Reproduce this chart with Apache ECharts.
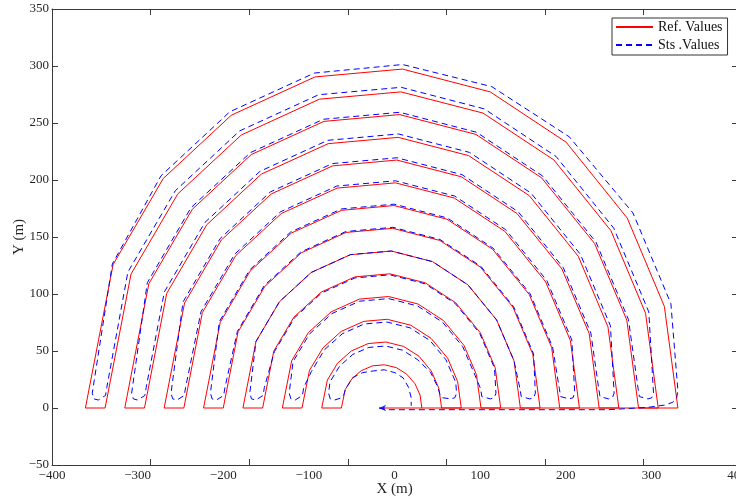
<!DOCTYPE html>
<html>
<head>
<meta charset="utf-8">
<title>Reference vs. tracked path</title>
<script src="https://cdn.jsdelivr.net/npm/echarts@6/dist/echarts.min.js"></script>
<style>
  html, body { margin: 0; padding: 0; background: #ffffff; }
  #chart { width: 736px; height: 499px; }
</style>
</head>
<body>
<div id="chart"></div>
<script>
// Reference rings, outermost first, each listed from its right foot to its left foot (x, y in metres)
const refArcs = [
  [[331,0],[315.2,89.1],[271.8,166.6],[200.4,233.2],[111.8,277.3],[9.2,297.3],[-92.9,290.4],[-190.6,256.8],[-270.1,201.3],[-328.6,125.9],[-361,0]],
  [[308,0],[293.2,83.1],[252.8,155.5],[186.1,217.6],[103.4,258.7],[7.5,277.3],[-87.7,270.9],[-178.9,239.5],[-253.1,187.8],[-307.7,117.5],[-338,0]],
  [[285,0],[271.3,77.1],[233.7,144.3],[171.8,201.9],[95,240],[5.9,257.4],[-82.5,251.4],[-167.3,222.3],[-236.2,174.3],[-286.9,109],[-315,0]],
  [[262,0],[249.3,71.2],[214.6,133.1],[157.4,186.3],[86.5,221.4],[4.3,237.4],[-77.3,231.9],[-155.6,205.1],[-219.2,160.8],[-266,100.6],[-292,0]],
  [[239,0],[227.4,65.2],[195.6,121.9],[143.1,170.6],[78.1,202.8],[2.7,217.5],[-72.2,212.4],[-143.9,187.8],[-202.3,147.3],[-245.2,92.1],[-269,0]],
  [[216,0],[205.4,59.2],[176.5,110.7],[128.8,155],[69.7,184.2],[1.1,197.5],[-67,192.9],[-132.2,170.6],[-185.3,133.8],[-224.4,83.7],[-246,0]],
  [[193,0],[183.5,53.2],[157.4,99.5],[114.5,139.3],[61.2,165.6],[-0.5,177.6],[-61.8,173.4],[-120.6,153.4],[-168.4,120.3],[-203.5,75.2],[-223,0]],
  [[170,0],[161.5,47.2],[138.4,88.4],[100.2,123.7],[52.8,147],[-2.1,157.6],[-56.6,154],[-108.9,136.1],[-151.4,106.7],[-182.7,66.8],[-200,0]],
  [[147,0],[139.6,41.3],[119.3,77.2],[85.8,108],[44.4,128.4],[-3.7,137.7],[-51.5,134.5],[-97.2,118.9],[-134.4,93.2],[-161.8,58.3],[-177,0]],
  [[124,0],[117.6,35.3],[100.2,66],[71.5,92.3],[35.9,109.8],[-5.3,117.7],[-46.3,115],[-85.5,101.7],[-117.5,79.7],[-141,49.9],[-154,0]],
  [[101,0],[95.7,29.3],[81.2,54.8],[57.2,76.7],[27.5,91.2],[-6.9,97.8],[-41.1,95.5],[-73.9,84.4],[-100.5,66.2],[-120.1,41.4],[-131,0]],
  [[78,0],[73.7,23.3],[62.1,43.6],[42.9,61],[19.1,72.6],[-8.5,77.8],[-35.9,76],[-62.2,67.2],[-83.6,52.7],[-99.3,33],[-108,0]],
  [[55,0],[51.8,17.3],[43,32.4],[28.6,45.4],[10.7,54],[-10.1,57.9],[-30.8,56.5],[-50.5,50],[-66.6,39.2],[-78.4,24.5],[-85,0]],
  [[32,0],[29.8,11.4],[24,21.2],[14.3,29.7],[2.2,35.4],[-11.7,37.9],[-25.6,37],[-38.9,32.7],[-49.7,25.7],[-57.6,16.1],[-62,0]]
];
const refStart = [[-18, 0]];

// Tracked path: the arc part of each ring (right to left), the U-turns between rings, and the two ends
const stsArcs = [
  [[322.8,91.5],[278.5,171.1],[204.1,237.9],[113.6,281.9],[9.4,301.3],[-93.6,293.8],[-192.4,259.8],[-272.7,203.7],[-329.5,126.4]],
  [[297,84.3],[256.1,157.7],[188.6,220.7],[104.8,262.4],[7.8,281.3],[-88.6,274.8],[-181,243],[-256.1,190.5],[-311.4,119.2]],
  [[273.2,77.7],[235.4,145.4],[173,203.5],[95.7,241.9],[6.1,259.4],[-83,253.3],[-168.3,224],[-237.7,175.7],[-288.7,109.9]],
  [[252.2,72.1],[217.1,134.8],[159.3,188.6],[87.6,224.2],[4.5,240.4],[-78,234.8],[-157.1,207.6],[-221.4,162.8],[-268.8,101.8]],
  [[229.3,65.8],[197.2,123],[144.4,172.2],[78.8,204.7],[2.9,219.5],[-72.6,214.4],[-144.9,189.6],[-203.7,148.6],[-247,93]],
  [[207.1,59.7],[178,111.7],[129.9,156.4],[70.3,185.9],[1.2,199.3],[-67.4,194.7],[-133.1,172.1],[-186.6,135],[-226,84.4]],
  [[184.6,53.6],[158.4,100.2],[115.2,140.2],[61.7,166.7],[-0.4,178.8],[-62.1,174.6],[-121.2,154.4],[-169.2,121.1],[-204.6,75.7]],
  [[162.4,47.5],[139.1,88.9],[100.7,124.4],[53.1,147.8],[-2,158.5],[-56.8,154.8],[-109.3,136.9],[-152.1,107.4],[-183.5,67.2]],
  [[139.6,41.3],[119.3,77.2],[85.8,108],[44.4,128.4],[-3.7,137.7],[-51.5,134.5],[-97.2,118.9],[-134.4,93.2],[-161.8,58.3]],
  [[116.8,35],[99.5,65.5],[71,91.6],[35.6,109],[-5.4,116.8],[-46.1,114.1],[-85.1,100.9],[-116.8,79.1],[-140.2,49.5]],
  [[94,28.8],[79.7,53.8],[56.1,75.3],[26.9,89.5],[-7,96],[-40.7,93.7],[-73,82.9],[-99.2,65],[-118.5,40.7]],
  [[71.5,22.6],[60.1,42.3],[41.4,59.2],[18.2,70.3],[-8.7,75.4],[-35.4,73.7],[-61,65.1],[-81.8,51.1],[-97.1,31.9]],
  [[50.5,18.5],[42,31.5],[26.4,42.7],[9.4,50.7],[-10.4,54.4],[-30,53.1],[-48.7,47],[-64,36.8],[-75.3,23]],
  [[19.5,9],[16.5,18],[10,26.5],[0.5,31],[-12,33.5],[-25,32.5],[-37.5,31],[-49,26.5],[-57,17]]
];
const stsTurns = [
  [[-353,13],[-351,8],[-346,7],[-337.5,11],[-336,18]],
  [[302.5,13],[300.5,9],[296,8],[286,10],[284.5,17]],
  [[-307,13],[-305,8],[-300,7],[-291.5,11],[-290,18]],
  [[256.5,13],[254.5,9],[250,8],[240,10],[238.5,17]],
  [[-261,13],[-259,8],[-254,7],[-245.5,11],[-244,18]],
  [[210.5,13],[208.5,9],[204,8],[194,10],[192.5,17]],
  [[-215,13],[-213,8],[-208,7],[-199.5,11],[-198,18]],
  [[164.5,13],[162.5,9],[158,8],[148,10],[146.5,17]],
  [[-169,13],[-167,8],[-162,7],[-153.5,11],[-152,18]],
  [[118.5,13],[116.5,9],[112,8],[102,10],[100.5,17]],
  [[-123,13],[-121,8],[-116,7],[-107.5,11],[-106,18]],
  [[72.5,13],[70.5,9],[66,8],[56,9],[53,12]],
  [[-77,13],[-75,8],[-70,7],[-61.5,9],[-59,12]]
];
const stsStart = [[-18,0],[-10,-1.5],[250,-1.5],[295,0.5],[315,2.5],[325,5],[329.5,9],[331,15]];
const stsEnd = [[19.5,2]];

const seriesNames = ['Ref. Values', 'Sts .Values'];
const xAxisTitle = 'X (m)';
const yAxisTitle = 'Y (m)';

// Rings are driven back and forth: even rings right-to-left, odd rings left-to-right
const refPath = [...refStart];
refArcs.forEach((arc, k) => {
  refPath.push(...(k % 2 === 0 ? arc : arc.slice().reverse()));
});
const stsPath = [...stsStart];
stsArcs.forEach((arc, k) => {
  stsPath.push(...(k % 2 === 0 ? arc : arc.slice().reverse()));
  if (k < stsTurns.length) stsPath.push(...stsTurns[k]);
});
stsPath.push(...stsEnd);

const serif = '"Liberation Serif", "DejaVu Serif", serif';
const ink = '#262626';
const frame = '#3a3a3a';
const minus = v => String(v).replace('-', '\u2212');

const chart = echarts.init(document.getElementById('chart'), null, { renderer: 'canvas' });
chart.setOption({
  animation: false,
  backgroundColor: '#ffffff',
  grid: { left: 52, top: 9, width: 685, height: 456, containLabel: false, outerBoundsMode: 'none' },
  legend: {
    data: seriesNames,
    orient: 'vertical',
    left: 612, top: 18,
    padding: [2, 5, 3, 3],
    itemGap: 4, itemWidth: 37, itemHeight: 12,
    borderColor: '#333', borderWidth: 1, borderRadius: 0,
    backgroundColor: '#ffffff',
    itemStyle: { opacity: 0 },
    textStyle: { fontFamily: serif, fontSize: 14, color: '#111' }
  },
  xAxis: [
    {
      type: 'value', min: -400, max: 400, interval: 100, position: 'bottom',
      axisLine: { show: true, onZero: false, lineStyle: { color: frame, width: 1 } },
      axisTick: { show: false },
      splitLine: { show: false },
      axisLabel: { color: ink, fontFamily: serif, fontSize: 13, margin: 4, formatter: minus },
      name: xAxisTitle, nameLocation: 'middle', nameGap: 17, nameMoveOverlap: false,
      nameTextStyle: { color: ink, fontFamily: serif, fontSize: 15, verticalAlign: 'top' }
    },
    {
      type: 'value', min: -400, max: 294.7, interval: 100, position: 'bottom',
      axisLine: { show: false, onZero: false }, axisLabel: { show: false }, splitLine: { show: false },
      axisTick: { show: true, inside: true, length: 6, lineStyle: { color: frame } }
    },
    {
      type: 'value', min: -400, max: 294.7, interval: 100, position: 'top',
      axisLine: { show: true, onZero: false, lineStyle: { color: frame, width: 1 } },
      axisLabel: { show: false }, splitLine: { show: false },
      axisTick: { show: true, inside: true, length: 6, lineStyle: { color: frame } }
    }
  ],
  yAxis: [
    {
      type: 'value', min: -50, max: 350, interval: 50, position: 'left',
      axisLine: { show: true, onZero: false, lineStyle: { color: frame, width: 1 } },
      axisTick: { show: true, inside: true, length: 6, lineStyle: { color: frame } },
      splitLine: { show: false },
      axisLabel: { color: ink, fontFamily: serif, fontSize: 13, margin: 3, formatter: minus },
      name: yAxisTitle, nameLocation: 'middle', nameGap: 25, nameRotate: 90, nameMoveOverlap: false,
      nameTextStyle: { color: ink, fontFamily: serif, fontSize: 15 }
    },
    {
      type: 'value', min: -50, max: 350, interval: 50, position: 'right',
      axisLine: { show: true, onZero: false, lineStyle: { color: frame, width: 1 } },
      axisTick: { show: true, inside: true, length: 5, lineStyle: { color: frame } },
      splitLine: { show: false }, axisLabel: { show: false }
    }
  ],
  series: [
    {
      name: seriesNames[0], type: 'line', xAxisIndex: 0, yAxisIndex: 0,
      data: refPath, symbol: 'none', showSymbol: false,
      lineStyle: { color: '#ff0000', width: 1 }, itemStyle: { color: '#ff0000' },
      z: 2
    },
    {
      name: seriesNames[1], type: 'line', xAxisIndex: 0, yAxisIndex: 0,
      data: stsPath, symbol: 'none', showSymbol: false,
      lineStyle: { color: '#0000ff', width: 1, type: [6, 4] }, itemStyle: { color: '#0000ff' },
      z: 3
    },
    {
      name: 'start', type: 'scatter', xAxisIndex: 0, yAxisIndex: 0,
      data: [stsStart[0]], symbol: 'arrow', symbolSize: [5, 7], symbolRotate: 90,
      itemStyle: { color: '#0000ff' }, z: 4, silent: true
    }
  ]
});
</script>
</body>
</html>
